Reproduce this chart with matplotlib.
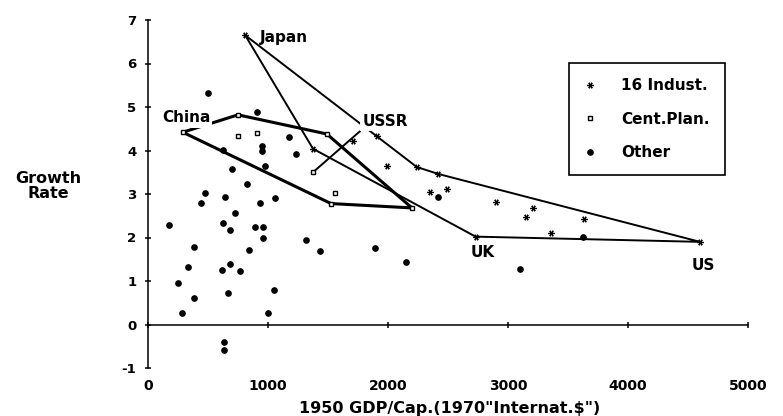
import numpy as np
import matplotlib.pyplot as plt

plt.rcParams['font.family'] = ['DejaVu Sans']
plt.rcParams['font.weight'] = 'bold'
plt.rcParams['axes.unicode_minus'] = False

# ---- 16 industrial countries (hull: Japan .. US .. UK) ----
ind_x = [810, 2240, 2420, 4600, 2730, 1375, 1710, 1910, 1990, 2350, 2490, 2900, 3210, 3150, 3630, 3360]
ind_y = [6.65, 3.62, 3.46, 1.90, 2.02, 4.04, 4.22, 4.33, 3.65, 3.05, 3.12, 2.82, 2.68, 2.48, 2.43, 2.10]
ind_hull = [0, 1, 2, 3, 4, 5, 0]

# ---- centrally planned (hull: China .. ) ----
cp_x = [290, 750, 1490, 2200, 1525, 750, 905, 1375, 1560]
cp_y = [4.42, 4.82, 4.38, 2.68, 2.78, 4.34, 4.40, 3.50, 3.03]
cp_hull = [0, 1, 2, 3, 4, 0]

# ---- other countries ----
oth_x = [500, 908, 950, 950, 1175, 1233, 625, 975, 700, 825, 475, 642, 442, 933, 1058,
         725, 175, 625, 683, 892, 958, 958, 1317, 383, 842, 1433, 1892, 333, 617, 683,
         767, 250, 667, 1050, 383, 283, 1000, 633, 633, 2417, 3625, 2150, 3100]
oth_y = [5.32, 4.88, 4.10, 3.98, 4.31, 3.92, 4.01, 3.65, 3.58, 3.23, 3.03, 2.94, 2.80, 2.80, 2.91,
         2.57, 2.29, 2.34, 2.18, 2.25, 2.25, 1.99, 1.95, 1.79, 1.72, 1.70, 1.77, 1.33, 1.26, 1.38,
         1.24, 0.96, 0.73, 0.80, 0.60, 0.27, 0.27, -0.41, -0.59, 2.94, 2.02, 1.44, 1.28]

# country labels: (text, x, y)
lab_txt = ['Japan', 'China', 'UK', 'US']
lab_x = [933, 317, 2790, 4625]
lab_y = [6.6, 4.75, 1.65, 1.35]
ussr_pt = (1375, 3.50)
ussr_lab = (1975, 4.66)

xticks = [0, 1000, 2000, 3000, 4000, 5000]
yticks = [-1, 0, 1, 2, 3, 4, 5, 6, 7]


def plot_chart():
    fig = plt.figure(figsize=(7.83, 4.16), dpi=100)
    ax = fig.add_axes([148/783, 1-368/416, 600/783, 348/416])

    #-------hull lines---------
    ix = np.array(ind_x)[ind_hull]
    iy = np.array(ind_y)[ind_hull]
    ax.plot(ix, iy, color='black', lw=1.4, zorder=2)
    cx = np.array(cp_x)[cp_hull]
    cy = np.array(cp_y)[cp_hull]
    ax.plot(cx, cy, color='black', lw=2.2, zorder=2)

    #-------points-------------
    ax.plot(ind_x, ind_y, ls='none', marker=(6, 2, 90), ms=4.5, mew=0.9,
            color='black', label='16 Indust.', zorder=3)
    ax.plot(cp_x, cp_y, ls='none', marker='s', ms=3.5, mew=1.0, mfc='white',
            mec='black', label='Cent.Plan.', zorder=3)
    ax.plot(oth_x, oth_y, ls='none', marker='o', ms=3.8, color='black',
            label='Other', zorder=3)

    #-------labels-------------
    box = dict(facecolor='white', edgecolor='none', pad=1.5)
    for t, x, y in zip(lab_txt, lab_x, lab_y):
        ha = 'left' if t == 'Japan' else 'center'
        ax.text(x, y, t, ha=ha, va='center', fontsize=11, zorder=4,
                bbox=box if t == 'China' else None)
    ax.annotate('USSR', xy=ussr_pt, xytext=ussr_lab, ha='center', va='center',
                fontsize=11, zorder=4, bbox=box,
                arrowprops=dict(arrowstyle='-', lw=1.4, color='black',
                                relpos=(0, 0), shrinkA=0, shrinkB=2))

    #-------axes---------------
    ax.set_xlim(0, 5000)
    ax.set_ylim(-1, 7)
    ax.spines['top'].set_visible(False)
    ax.spines['right'].set_visible(False)
    ax.spines['bottom'].set_position(('data', 0))
    for s in ['left', 'bottom']:
        ax.spines[s].set_linewidth(1.1)
    ax.set_xticks(xticks)
    ax.set_yticks(yticks)
    ax.tick_params(axis='both', direction='inout', length=5, width=1.1,
                   labelsize=10)
    ax.tick_params(axis='x', pad=37)
    ax.tick_params(axis='y', pad=6, labelsize=9.5)

    fig.text(48/783, 1-186/416, 'Growth\nRate', ha='center', va='center',
             fontsize=11.5, linespacing=1.0, multialignment='center')
    fig.text(450/783, 1-408/416, '1950 GDP/Cap.(1970"Internat.$")',
             ha='center', va='center', fontsize=11.5)

    #-------legend-------------
    leg = ax.legend(loc='upper left', bbox_to_anchor=(569/783, 1-63/416),
                    bbox_transform=fig.transFigure, fontsize=11,
                    borderpad=1.0, labelspacing=1.2, handlelength=0.8,
                    handletextpad=1.6, borderaxespad=0, fancybox=False,
                    framealpha=1, edgecolor='black', numpoints=1)
    leg.get_frame().set_linewidth(1.2)

    fig.savefig('out.png', dpi=100)


if __name__ == "__main__":
    plot_chart()
